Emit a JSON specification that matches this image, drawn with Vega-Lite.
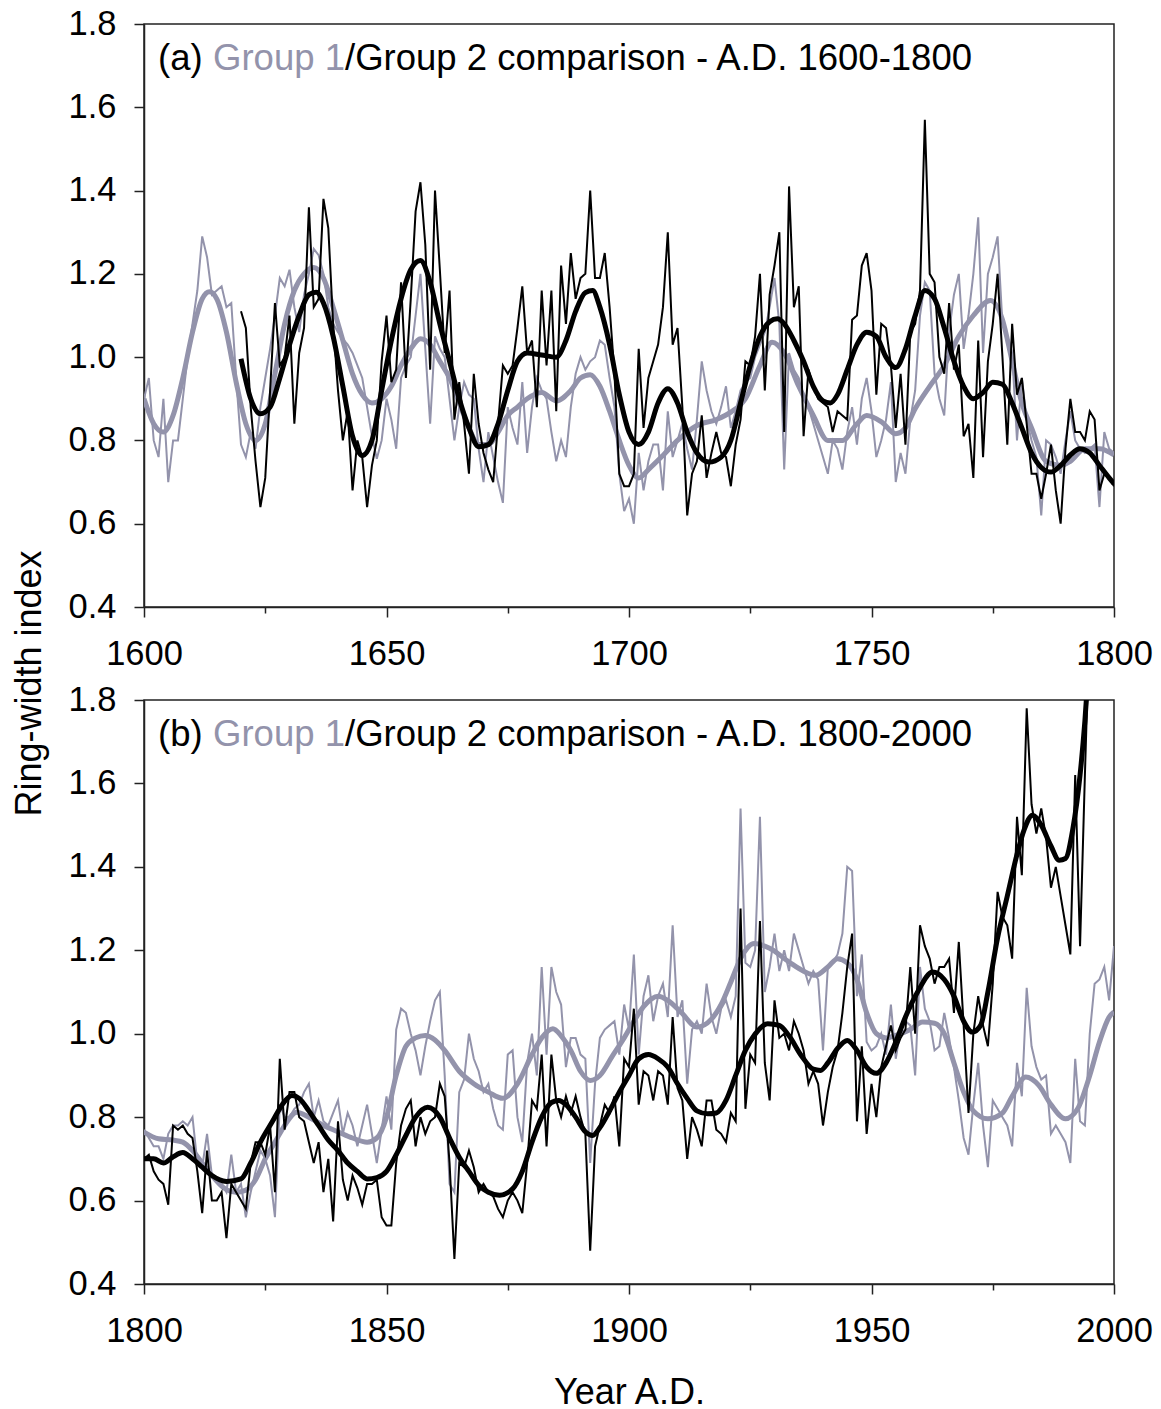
{
"$schema": "https://vega.github.io/schema/vega-lite/v6.json",
"padding": {"left": 10, "top": 5, "right": 5, "bottom": 0},
"config": {
  "font": "Liberation Sans",
  "view": {"stroke": "#222", "strokeWidth": 1.5},
  "axis": {"domainColor": "#222", "domainWidth": 1.5, "tickColor": "#222", "tickWidth": 1.5, "labelColor": "#000", "labelFont": "Liberation Sans", "titleFont": "Liberation Sans", "titleColor": "#000", "titleFontWeight": "normal", "grid": false, "labelFontSize": 34.5, "titleFontSize": 36},
  "text": {"font": "Liberation Sans"}
},
"datasets": {
"ta": [{"yr":1602.9,"ri":1.689}],
"tb": [{"yr":1802.9,"ri":1.689}],
"a1": [{"yr":1600,"ri":0.90},{"yr":1601,"ri":0.95},{"yr":1602,"ri":0.80},{"yr":1603,"ri":0.76},{"yr":1604,"ri":0.90},{"yr":1605,"ri":0.70},{"yr":1606,"ri":0.80},{"yr":1607,"ri":0.80},{"yr":1608,"ri":0.90},{"yr":1609,"ri":1.00},{"yr":1610,"ri":1.08},{"yr":1611,"ri":1.16},{"yr":1612,"ri":1.29},{"yr":1613,"ri":1.24},{"yr":1614,"ri":1.15},{"yr":1615,"ri":1.16},{"yr":1616,"ri":1.17},{"yr":1617,"ri":1.12},{"yr":1618,"ri":1.13},{"yr":1619,"ri":0.95},{"yr":1620,"ri":0.79},{"yr":1621,"ri":0.76},{"yr":1622,"ri":0.82},{"yr":1623,"ri":0.78},{"yr":1624,"ri":0.88},{"yr":1625,"ri":0.95},{"yr":1626,"ri":1.02},{"yr":1627,"ri":1.10},{"yr":1628,"ri":1.19},{"yr":1629,"ri":1.17},{"yr":1630,"ri":1.21},{"yr":1631,"ri":1.12},{"yr":1632,"ri":1.06},{"yr":1633,"ri":1.15},{"yr":1634,"ri":1.20},{"yr":1635,"ri":1.26},{"yr":1636,"ri":1.245},{"yr":1637,"ri":1.20},{"yr":1638,"ri":1.12},{"yr":1639,"ri":1.08},{"yr":1640,"ri":1.06},{"yr":1641,"ri":1.044},{"yr":1642,"ri":1.03},{"yr":1643,"ri":1.01},{"yr":1644,"ri":0.98},{"yr":1645,"ri":0.95},{"yr":1646,"ri":0.88},{"yr":1647,"ri":0.81},{"yr":1648,"ri":0.756},{"yr":1649,"ri":0.80},{"yr":1650,"ri":0.90},{"yr":1651,"ri":0.85},{"yr":1652,"ri":0.78},{"yr":1653,"ri":0.95},{"yr":1654,"ri":0.98},{"yr":1655,"ri":1.00},{"yr":1656,"ri":1.10},{"yr":1657,"ri":1.20},{"yr":1658,"ri":1.02},{"yr":1659,"ri":0.84},{"yr":1660,"ri":1.05},{"yr":1661,"ri":1.02},{"yr":1662,"ri":1.00},{"yr":1663,"ri":0.90},{"yr":1664,"ri":0.80},{"yr":1665,"ri":0.88},{"yr":1666,"ri":0.94},{"yr":1667,"ri":0.91},{"yr":1668,"ri":0.90},{"yr":1669,"ri":0.78},{"yr":1670,"ri":0.70},{"yr":1671,"ri":0.82},{"yr":1672,"ri":0.76},{"yr":1673,"ri":0.70},{"yr":1674,"ri":0.65},{"yr":1675,"ri":0.88},{"yr":1676,"ri":0.83},{"yr":1677,"ri":0.79},{"yr":1678,"ri":0.94},{"yr":1679,"ri":0.77},{"yr":1680,"ri":0.88},{"yr":1681,"ri":0.95},{"yr":1682,"ri":0.92},{"yr":1683,"ri":0.90},{"yr":1684,"ri":0.82},{"yr":1685,"ri":0.75},{"yr":1686,"ri":0.80},{"yr":1687,"ri":0.76},{"yr":1688,"ri":0.88},{"yr":1689,"ri":0.96},{"yr":1690,"ri":1.00},{"yr":1691,"ri":0.97},{"yr":1692,"ri":0.99},{"yr":1693,"ri":1.00},{"yr":1694,"ri":1.04},{"yr":1695,"ri":1.03},{"yr":1696,"ri":0.95},{"yr":1697,"ri":0.88},{"yr":1698,"ri":0.72},{"yr":1699,"ri":0.63},{"yr":1700,"ri":0.66},{"yr":1701,"ri":0.60},{"yr":1702,"ri":0.77},{"yr":1703,"ri":0.68},{"yr":1704,"ri":0.75},{"yr":1705,"ri":0.79},{"yr":1706,"ri":0.79},{"yr":1707,"ri":0.68},{"yr":1708,"ri":0.87},{"yr":1709,"ri":0.76},{"yr":1710,"ri":0.80},{"yr":1711,"ri":0.84},{"yr":1712,"ri":0.78},{"yr":1713,"ri":0.73},{"yr":1714,"ri":0.85},{"yr":1715,"ri":0.99},{"yr":1716,"ri":0.92},{"yr":1717,"ri":0.87},{"yr":1718,"ri":0.84},{"yr":1719,"ri":0.88},{"yr":1720,"ri":0.93},{"yr":1721,"ri":0.83},{"yr":1722,"ri":0.87},{"yr":1723,"ri":0.92},{"yr":1724,"ri":0.94},{"yr":1725,"ri":0.95},{"yr":1726,"ri":1.00},{"yr":1727,"ri":1.03},{"yr":1728,"ri":1.06},{"yr":1729,"ri":1.12},{"yr":1730,"ri":1.19},{"yr":1731,"ri":1.08},{"yr":1732,"ri":0.73},{"yr":1733,"ri":1.01},{"yr":1734,"ri":0.97},{"yr":1735,"ri":0.95},{"yr":1736,"ri":0.90},{"yr":1737,"ri":0.88},{"yr":1738,"ri":0.84},{"yr":1739,"ri":0.80},{"yr":1740,"ri":0.76},{"yr":1741,"ri":0.72},{"yr":1742,"ri":0.80},{"yr":1743,"ri":0.78},{"yr":1744,"ri":0.73},{"yr":1745,"ri":0.82},{"yr":1746,"ri":0.88},{"yr":1747,"ri":0.79},{"yr":1748,"ri":0.90},{"yr":1749,"ri":0.95},{"yr":1750,"ri":0.87},{"yr":1751,"ri":0.76},{"yr":1752,"ri":0.80},{"yr":1753,"ri":0.85},{"yr":1754,"ri":0.94},{"yr":1755,"ri":0.70},{"yr":1756,"ri":0.77},{"yr":1757,"ri":0.72},{"yr":1758,"ri":0.85},{"yr":1759,"ri":0.92},{"yr":1760,"ri":1.10},{"yr":1761,"ri":1.18},{"yr":1762,"ri":1.16},{"yr":1763,"ri":0.96},{"yr":1764,"ri":0.90},{"yr":1765,"ri":0.86},{"yr":1766,"ri":1.06},{"yr":1767,"ri":1.15},{"yr":1768,"ri":1.20},{"yr":1769,"ri":1.02},{"yr":1770,"ri":1.10},{"yr":1771,"ri":1.20},{"yr":1772,"ri":1.336},{"yr":1773,"ri":1.01},{"yr":1774,"ri":1.20},{"yr":1775,"ri":1.24},{"yr":1776,"ri":1.29},{"yr":1777,"ri":1.08},{"yr":1778,"ri":1.05},{"yr":1779,"ri":1.01},{"yr":1780,"ri":0.80},{"yr":1781,"ri":0.95},{"yr":1782,"ri":0.85},{"yr":1783,"ri":0.80},{"yr":1784,"ri":0.76},{"yr":1785,"ri":0.62},{"yr":1786,"ri":0.80},{"yr":1787,"ri":0.79},{"yr":1788,"ri":0.76},{"yr":1789,"ri":0.72},{"yr":1790,"ri":0.80},{"yr":1791,"ri":0.87},{"yr":1792,"ri":0.80},{"yr":1793,"ri":0.78},{"yr":1794,"ri":0.77},{"yr":1795,"ri":0.78},{"yr":1796,"ri":0.79},{"yr":1797,"ri":0.64},{"yr":1798,"ri":0.82},{"yr":1799,"ri":0.78},{"yr":1800,"ri":0.77}],
"a2": [{"yr":1620,"ri":1.11},{"yr":1621,"ri":1.07},{"yr":1622,"ri":0.88},{"yr":1623,"ri":0.75},{"yr":1624,"ri":0.64},{"yr":1625,"ri":0.71},{"yr":1626,"ri":0.92},{"yr":1627,"ri":1.13},{"yr":1628,"ri":0.98},{"yr":1629,"ri":1.00},{"yr":1630,"ri":1.10},{"yr":1631,"ri":0.84},{"yr":1632,"ri":1.01},{"yr":1633,"ri":1.07},{"yr":1634,"ri":1.36},{"yr":1635,"ri":1.12},{"yr":1636,"ri":1.14},{"yr":1637,"ri":1.38},{"yr":1638,"ri":1.31},{"yr":1639,"ri":1.08},{"yr":1640,"ri":0.92},{"yr":1641,"ri":0.80},{"yr":1642,"ri":0.87},{"yr":1643,"ri":0.68},{"yr":1644,"ri":0.80},{"yr":1645,"ri":0.76},{"yr":1646,"ri":0.64},{"yr":1647,"ri":0.74},{"yr":1648,"ri":0.80},{"yr":1649,"ri":0.99},{"yr":1650,"ri":1.10},{"yr":1651,"ri":0.94},{"yr":1652,"ri":0.97},{"yr":1653,"ri":1.18},{"yr":1654,"ri":0.95},{"yr":1655,"ri":1.14},{"yr":1656,"ri":1.35},{"yr":1657,"ri":1.42},{"yr":1658,"ri":1.27},{"yr":1659,"ri":0.97},{"yr":1660,"ri":1.40},{"yr":1661,"ri":1.21},{"yr":1662,"ri":1.01},{"yr":1663,"ri":1.16},{"yr":1664,"ri":0.85},{"yr":1665,"ri":0.94},{"yr":1666,"ri":0.84},{"yr":1667,"ri":0.72},{"yr":1668,"ri":0.96},{"yr":1669,"ri":0.84},{"yr":1670,"ri":0.77},{"yr":1671,"ri":0.73},{"yr":1672,"ri":0.70},{"yr":1673,"ri":0.84},{"yr":1674,"ri":0.98},{"yr":1675,"ri":0.96},{"yr":1676,"ri":0.98},{"yr":1677,"ri":1.07},{"yr":1678,"ri":1.17},{"yr":1679,"ri":1.01},{"yr":1680,"ri":1.04},{"yr":1681,"ri":0.88},{"yr":1682,"ri":1.16},{"yr":1683,"ri":0.98},{"yr":1684,"ri":1.16},{"yr":1685,"ri":0.87},{"yr":1686,"ri":1.22},{"yr":1687,"ri":1.08},{"yr":1688,"ri":1.25},{"yr":1689,"ri":1.14},{"yr":1690,"ri":1.19},{"yr":1691,"ri":1.20},{"yr":1692,"ri":1.40},{"yr":1693,"ri":1.19},{"yr":1694,"ri":1.19},{"yr":1695,"ri":1.25},{"yr":1696,"ri":1.12},{"yr":1697,"ri":0.96},{"yr":1698,"ri":0.72},{"yr":1699,"ri":0.69},{"yr":1700,"ri":0.69},{"yr":1701,"ri":0.72},{"yr":1702,"ri":1.02},{"yr":1703,"ri":0.83},{"yr":1704,"ri":0.95},{"yr":1705,"ri":0.99},{"yr":1706,"ri":1.03},{"yr":1707,"ri":1.12},{"yr":1708,"ri":1.30},{"yr":1709,"ri":1.03},{"yr":1710,"ri":1.07},{"yr":1711,"ri":0.88},{"yr":1712,"ri":0.62},{"yr":1713,"ri":0.72},{"yr":1714,"ri":0.75},{"yr":1715,"ri":0.86},{"yr":1716,"ri":0.71},{"yr":1717,"ri":0.77},{"yr":1718,"ri":0.82},{"yr":1719,"ri":0.77},{"yr":1720,"ri":0.76},{"yr":1721,"ri":0.69},{"yr":1722,"ri":0.79},{"yr":1723,"ri":0.85},{"yr":1724,"ri":0.99},{"yr":1725,"ri":0.98},{"yr":1726,"ri":1.05},{"yr":1727,"ri":1.20},{"yr":1728,"ri":0.92},{"yr":1729,"ri":1.15},{"yr":1730,"ri":1.22},{"yr":1731,"ri":1.30},{"yr":1732,"ri":0.82},{"yr":1733,"ri":1.41},{"yr":1734,"ri":1.12},{"yr":1735,"ri":1.17},{"yr":1736,"ri":0.81},{"yr":1737,"ri":0.97},{"yr":1738,"ri":0.93},{"yr":1739,"ri":0.90},{"yr":1740,"ri":0.89},{"yr":1741,"ri":0.88},{"yr":1742,"ri":0.82},{"yr":1743,"ri":0.87},{"yr":1744,"ri":0.86},{"yr":1745,"ri":0.85},{"yr":1746,"ri":1.09},{"yr":1747,"ri":1.10},{"yr":1748,"ri":1.22},{"yr":1749,"ri":1.25},{"yr":1750,"ri":1.16},{"yr":1751,"ri":0.91},{"yr":1752,"ri":1.08},{"yr":1753,"ri":1.07},{"yr":1754,"ri":0.98},{"yr":1755,"ri":0.83},{"yr":1756,"ri":0.96},{"yr":1757,"ri":0.79},{"yr":1758,"ri":1.06},{"yr":1759,"ri":1.08},{"yr":1760,"ri":1.16},{"yr":1761,"ri":1.57},{"yr":1762,"ri":1.20},{"yr":1763,"ri":1.18},{"yr":1764,"ri":1.00},{"yr":1765,"ri":0.96},{"yr":1766,"ri":1.13},{"yr":1767,"ri":0.97},{"yr":1768,"ri":1.03},{"yr":1769,"ri":0.81},{"yr":1770,"ri":0.84},{"yr":1771,"ri":0.71},{"yr":1772,"ri":1.04},{"yr":1773,"ri":0.76},{"yr":1774,"ri":0.99},{"yr":1775,"ri":1.08},{"yr":1776,"ri":1.20},{"yr":1777,"ri":1.00},{"yr":1778,"ri":0.79},{"yr":1779,"ri":1.08},{"yr":1780,"ri":0.91},{"yr":1781,"ri":0.95},{"yr":1782,"ri":0.84},{"yr":1783,"ri":0.72},{"yr":1784,"ri":0.72},{"yr":1785,"ri":0.66},{"yr":1786,"ri":0.72},{"yr":1787,"ri":0.79},{"yr":1788,"ri":0.68},{"yr":1789,"ri":0.60},{"yr":1790,"ri":0.78},{"yr":1791,"ri":0.90},{"yr":1792,"ri":0.82},{"yr":1793,"ri":0.82},{"yr":1794,"ri":0.80},{"yr":1795,"ri":0.87},{"yr":1796,"ri":0.85},{"yr":1797,"ri":0.68},{"yr":1798,"ri":0.72},{"yr":1799,"ri":0.71},{"yr":1800,"ri":0.69}],
"as1": [{"yr":1600,"ri":0.90},{"yr":1602,"ri":0.84},{"yr":1604,"ri":0.82},{"yr":1606,"ri":0.86},{"yr":1608,"ri":0.95},{"yr":1610,"ri":1.06},{"yr":1612,"ri":1.14},{"yr":1613.5,"ri":1.157},{"yr":1615,"ri":1.14},{"yr":1617,"ri":1.06},{"yr":1619,"ri":0.94},{"yr":1621,"ri":0.84},{"yr":1623,"ri":0.80},{"yr":1625,"ri":0.84},{"yr":1627,"ri":0.96},{"yr":1629,"ri":1.08},{"yr":1631,"ri":1.16},{"yr":1633,"ri":1.20},{"yr":1635,"ri":1.215},{"yr":1637,"ri":1.19},{"yr":1639,"ri":1.12},{"yr":1641,"ri":1.04},{"yr":1643,"ri":0.96},{"yr":1645,"ri":0.91},{"yr":1647,"ri":0.89},{"yr":1649,"ri":0.90},{"yr":1651,"ri":0.93},{"yr":1653,"ri":0.98},{"yr":1655,"ri":1.02},{"yr":1657,"ri":1.044},{"yr":1659,"ri":1.03},{"yr":1661,"ri":0.99},{"yr":1663,"ri":0.95},{"yr":1665,"ri":0.89},{"yr":1667,"ri":0.83},{"yr":1669,"ri":0.79},{"yr":1671,"ri":0.79},{"yr":1673,"ri":0.82},{"yr":1675,"ri":0.86},{"yr":1677,"ri":0.88},{"yr":1679,"ri":0.90},{"yr":1682,"ri":0.915},{"yr":1685,"ri":0.895},{"yr":1688,"ri":0.92},{"yr":1690,"ri":0.95},{"yr":1692,"ri":0.958},{"yr":1694,"ri":0.93},{"yr":1696,"ri":0.87},{"yr":1698,"ri":0.80},{"yr":1700,"ri":0.74},{"yr":1702,"ri":0.71},{"yr":1704,"ri":0.73},{"yr":1707,"ri":0.764},{"yr":1710,"ri":0.80},{"yr":1714,"ri":0.836},{"yr":1718,"ri":0.85},{"yr":1721,"ri":0.868},{"yr":1724,"ri":0.90},{"yr":1727,"ri":0.98},{"yr":1729.5,"ri":1.036},{"yr":1732,"ri":1.01},{"yr":1735,"ri":0.93},{"yr":1738,"ri":0.86},{"yr":1741,"ri":0.80},{"yr":1744,"ri":0.80},{"yr":1747,"ri":0.84},{"yr":1749,"ri":0.86},{"yr":1752,"ri":0.845},{"yr":1755,"ri":0.816},{"yr":1757,"ri":0.83},{"yr":1759,"ri":0.876},{"yr":1762,"ri":0.93},{"yr":1765,"ri":0.98},{"yr":1768,"ri":1.05},{"yr":1771,"ri":1.10},{"yr":1774.5,"ri":1.136},{"yr":1777,"ri":1.09},{"yr":1779,"ri":0.99},{"yr":1781,"ri":0.89},{"yr":1783,"ri":0.83},{"yr":1786,"ri":0.75},{"yr":1789,"ri":0.74},{"yr":1791,"ri":0.75},{"yr":1794,"ri":0.78},{"yr":1797,"ri":0.78},{"yr":1800,"ri":0.765}],
"as2": [{"yr":1620,"ri":0.996},{"yr":1622,"ri":0.90},{"yr":1624,"ri":0.864},{"yr":1626,"ri":0.88},{"yr":1628,"ri":0.95},{"yr":1630,"ri":1.03},{"yr":1632,"ri":1.10},{"yr":1634,"ri":1.15},{"yr":1635.5,"ri":1.156},{"yr":1637,"ri":1.13},{"yr":1639,"ri":1.05},{"yr":1641,"ri":0.93},{"yr":1643,"ri":0.81},{"yr":1645,"ri":0.764},{"yr":1647,"ri":0.80},{"yr":1649,"ri":0.92},{"yr":1651,"ri":1.04},{"yr":1653,"ri":1.14},{"yr":1655,"ri":1.21},{"yr":1657,"ri":1.232},{"yr":1659,"ri":1.18},{"yr":1661,"ri":1.08},{"yr":1663,"ri":0.99},{"yr":1665,"ri":0.90},{"yr":1667,"ri":0.83},{"yr":1669,"ri":0.785},{"yr":1671,"ri":0.79},{"yr":1673,"ri":0.84},{"yr":1675,"ri":0.92},{"yr":1677,"ri":0.99},{"yr":1679,"ri":1.01},{"yr":1682,"ri":1.005},{"yr":1685,"ri":1.00},{"yr":1687,"ri":1.04},{"yr":1689,"ri":1.11},{"yr":1691,"ri":1.155},{"yr":1692.5,"ri":1.16},{"yr":1694,"ri":1.12},{"yr":1696,"ri":1.03},{"yr":1698,"ri":0.91},{"yr":1700,"ri":0.82},{"yr":1702,"ri":0.79},{"yr":1704,"ri":0.82},{"yr":1706,"ri":0.89},{"yr":1708,"ri":0.924},{"yr":1710,"ri":0.89},{"yr":1712,"ri":0.82},{"yr":1714,"ri":0.77},{"yr":1716.5,"ri":0.748},{"yr":1719,"ri":0.76},{"yr":1721,"ri":0.80},{"yr":1723,"ri":0.89},{"yr":1725,"ri":0.98},{"yr":1727,"ri":1.05},{"yr":1729,"ri":1.085},{"yr":1730.6,"ri":1.092},{"yr":1732,"ri":1.08},{"yr":1734,"ri":1.04},{"yr":1736,"ri":0.99},{"yr":1738,"ri":0.93},{"yr":1740,"ri":0.895},{"yr":1741.5,"ri":0.89},{"yr":1743,"ri":0.91},{"yr":1745,"ri":0.97},{"yr":1747,"ri":1.03},{"yr":1749,"ri":1.06},{"yr":1751,"ri":1.05},{"yr":1753,"ri":1.00},{"yr":1755,"ri":0.975},{"yr":1757,"ri":1.02},{"yr":1759,"ri":1.10},{"yr":1761,"ri":1.16},{"yr":1763,"ri":1.14},{"yr":1765,"ri":1.07},{"yr":1767,"ri":0.99},{"yr":1769,"ri":0.93},{"yr":1771,"ri":0.90},{"yr":1773,"ri":0.915},{"yr":1775,"ri":0.94},{"yr":1777,"ri":0.935},{"yr":1779,"ri":0.89},{"yr":1781,"ri":0.83},{"yr":1783,"ri":0.77},{"yr":1785,"ri":0.735},{"yr":1787,"ri":0.724},{"yr":1789,"ri":0.74},{"yr":1791,"ri":0.765},{"yr":1793,"ri":0.78},{"yr":1795,"ri":0.77},{"yr":1797,"ri":0.74},{"yr":1799,"ri":0.71},{"yr":1800,"ri":0.696}],
"b1": [{"yr":1800,"ri":0.77},{"yr":1801,"ri":0.75},{"yr":1802,"ri":0.73},{"yr":1803,"ri":0.73},{"yr":1804,"ri":0.70},{"yr":1805,"ri":0.76},{"yr":1806,"ri":0.78},{"yr":1807,"ri":0.78},{"yr":1808,"ri":0.79},{"yr":1809,"ri":0.78},{"yr":1810,"ri":0.80},{"yr":1811,"ri":0.69},{"yr":1812,"ri":0.68},{"yr":1813,"ri":0.76},{"yr":1814,"ri":0.66},{"yr":1815,"ri":0.65},{"yr":1816,"ri":0.64},{"yr":1817,"ri":0.62},{"yr":1818,"ri":0.71},{"yr":1819,"ri":0.62},{"yr":1820,"ri":0.64},{"yr":1821,"ri":0.56},{"yr":1822,"ri":0.62},{"yr":1823,"ri":0.67},{"yr":1824,"ri":0.72},{"yr":1825,"ri":0.70},{"yr":1826,"ri":0.66},{"yr":1827,"ri":0.56},{"yr":1828,"ri":0.83},{"yr":1829,"ri":0.80},{"yr":1830,"ri":0.80},{"yr":1831,"ri":0.82},{"yr":1832,"ri":0.83},{"yr":1833,"ri":0.86},{"yr":1834,"ri":0.88},{"yr":1835,"ri":0.80},{"yr":1836,"ri":0.84},{"yr":1837,"ri":0.79},{"yr":1838,"ri":0.78},{"yr":1839,"ri":0.81},{"yr":1840,"ri":0.84},{"yr":1841,"ri":0.76},{"yr":1842,"ri":0.81},{"yr":1843,"ri":0.78},{"yr":1844,"ri":0.73},{"yr":1845,"ri":0.78},{"yr":1846,"ri":0.83},{"yr":1847,"ri":0.76},{"yr":1848,"ri":0.69},{"yr":1849,"ri":0.77},{"yr":1850,"ri":0.85},{"yr":1851,"ri":0.77},{"yr":1852,"ri":1.01},{"yr":1853,"ri":1.06},{"yr":1854,"ri":1.05},{"yr":1855,"ri":1.00},{"yr":1856,"ri":0.96},{"yr":1857,"ri":0.90},{"yr":1858,"ri":0.97},{"yr":1859,"ri":1.03},{"yr":1860,"ri":1.08},{"yr":1861,"ri":1.10},{"yr":1862,"ri":0.90},{"yr":1863,"ri":0.64},{"yr":1864,"ri":0.62},{"yr":1865,"ri":0.86},{"yr":1866,"ri":0.89},{"yr":1867,"ri":1.00},{"yr":1868,"ri":0.94},{"yr":1869,"ri":0.91},{"yr":1870,"ri":0.86},{"yr":1871,"ri":0.88},{"yr":1872,"ri":0.82},{"yr":1873,"ri":0.78},{"yr":1874,"ri":0.77},{"yr":1875,"ri":0.95},{"yr":1876,"ri":0.96},{"yr":1877,"ri":0.80},{"yr":1878,"ri":0.74},{"yr":1879,"ri":0.93},{"yr":1880,"ri":1.00},{"yr":1881,"ri":0.90},{"yr":1882,"ri":1.16},{"yr":1883,"ri":0.95},{"yr":1884,"ri":1.16},{"yr":1885,"ri":1.10},{"yr":1886,"ri":1.07},{"yr":1887,"ri":0.92},{"yr":1888,"ri":0.99},{"yr":1889,"ri":0.99},{"yr":1890,"ri":0.95},{"yr":1891,"ri":0.94},{"yr":1892,"ri":0.69},{"yr":1893,"ri":0.88},{"yr":1894,"ri":0.99},{"yr":1895,"ri":1.01},{"yr":1896,"ri":1.02},{"yr":1897,"ri":1.03},{"yr":1898,"ri":0.95},{"yr":1899,"ri":1.07},{"yr":1900,"ri":1.01},{"yr":1901,"ri":1.19},{"yr":1902,"ri":0.95},{"yr":1903,"ri":1.09},{"yr":1904,"ri":1.14},{"yr":1905,"ri":1.03},{"yr":1906,"ri":1.09},{"yr":1907,"ri":1.12},{"yr":1908,"ri":1.04},{"yr":1909,"ri":1.26},{"yr":1910,"ri":1.04},{"yr":1911,"ri":1.08},{"yr":1912,"ri":0.88},{"yr":1913,"ri":1.01},{"yr":1914,"ri":1.03},{"yr":1915,"ri":1.00},{"yr":1916,"ri":1.12},{"yr":1917,"ri":1.04},{"yr":1918,"ri":1.00},{"yr":1919,"ri":1.06},{"yr":1920,"ri":1.08},{"yr":1921,"ri":1.04},{"yr":1922,"ri":1.09},{"yr":1923,"ri":1.54},{"yr":1924,"ri":1.17},{"yr":1925,"ri":1.16},{"yr":1926,"ri":1.20},{"yr":1927,"ri":1.52},{"yr":1928,"ri":1.10},{"yr":1929,"ri":1.16},{"yr":1930,"ri":1.24},{"yr":1931,"ri":1.15},{"yr":1932,"ri":1.20},{"yr":1933,"ri":1.15},{"yr":1934,"ri":1.24},{"yr":1935,"ri":1.20},{"yr":1936,"ri":1.16},{"yr":1937,"ri":1.12},{"yr":1938,"ri":1.15},{"yr":1939,"ri":1.13},{"yr":1940,"ri":0.96},{"yr":1941,"ri":1.16},{"yr":1942,"ri":1.17},{"yr":1943,"ri":1.19},{"yr":1944,"ri":1.24},{"yr":1945,"ri":1.40},{"yr":1946,"ri":1.39},{"yr":1947,"ri":1.09},{"yr":1948,"ri":1.19},{"yr":1949,"ri":0.98},{"yr":1950,"ri":0.96},{"yr":1951,"ri":0.97},{"yr":1952,"ri":1.00},{"yr":1953,"ri":0.95},{"yr":1954,"ri":1.07},{"yr":1955,"ri":0.94},{"yr":1956,"ri":1.01},{"yr":1957,"ri":1.03},{"yr":1958,"ri":1.02},{"yr":1959,"ri":0.90},{"yr":1960,"ri":1.16},{"yr":1961,"ri":1.06},{"yr":1962,"ri":1.03},{"yr":1963,"ri":0.96},{"yr":1964,"ri":0.97},{"yr":1965,"ri":1.05},{"yr":1966,"ri":0.99},{"yr":1967,"ri":0.92},{"yr":1968,"ri":0.84},{"yr":1969,"ri":0.75},{"yr":1970,"ri":0.71},{"yr":1971,"ri":0.83},{"yr":1972,"ri":0.93},{"yr":1973,"ri":0.78},{"yr":1974,"ri":0.68},{"yr":1975,"ri":0.84},{"yr":1976,"ri":0.82},{"yr":1977,"ri":0.80},{"yr":1978,"ri":0.78},{"yr":1979,"ri":0.73},{"yr":1980,"ri":0.93},{"yr":1981,"ri":0.85},{"yr":1982,"ri":1.11},{"yr":1983,"ri":0.97},{"yr":1984,"ri":0.92},{"yr":1985,"ri":0.89},{"yr":1986,"ri":0.90},{"yr":1987,"ri":0.76},{"yr":1988,"ri":0.78},{"yr":1989,"ri":0.76},{"yr":1990,"ri":0.74},{"yr":1991,"ri":0.69},{"yr":1992,"ri":0.94},{"yr":1993,"ri":0.79},{"yr":1994,"ri":0.78},{"yr":1995,"ri":1.00},{"yr":1996,"ri":1.12},{"yr":1997,"ri":1.13},{"yr":1998,"ri":1.16},{"yr":1999,"ri":1.08},{"yr":2000,"ri":1.21}],
"b2": [{"yr":1800,"ri":0.70},{"yr":1801,"ri":0.71},{"yr":1802,"ri":0.67},{"yr":1803,"ri":0.65},{"yr":1804,"ri":0.64},{"yr":1805,"ri":0.59},{"yr":1806,"ri":0.78},{"yr":1807,"ri":0.77},{"yr":1808,"ri":0.78},{"yr":1809,"ri":0.76},{"yr":1810,"ri":0.75},{"yr":1811,"ri":0.67},{"yr":1812,"ri":0.57},{"yr":1813,"ri":0.72},{"yr":1814,"ri":0.60},{"yr":1815,"ri":0.60},{"yr":1816,"ri":0.62},{"yr":1817,"ri":0.51},{"yr":1818,"ri":0.64},{"yr":1819,"ri":0.62},{"yr":1820,"ri":0.60},{"yr":1821,"ri":0.58},{"yr":1822,"ri":0.69},{"yr":1823,"ri":0.74},{"yr":1824,"ri":0.74},{"yr":1825,"ri":0.71},{"yr":1826,"ri":0.78},{"yr":1827,"ri":0.62},{"yr":1828,"ri":0.94},{"yr":1829,"ri":0.77},{"yr":1830,"ri":0.86},{"yr":1831,"ri":0.86},{"yr":1832,"ri":0.80},{"yr":1833,"ri":0.79},{"yr":1834,"ri":0.74},{"yr":1835,"ri":0.69},{"yr":1836,"ri":0.74},{"yr":1837,"ri":0.62},{"yr":1838,"ri":0.70},{"yr":1839,"ri":0.55},{"yr":1840,"ri":0.79},{"yr":1841,"ri":0.65},{"yr":1842,"ri":0.60},{"yr":1843,"ri":0.66},{"yr":1844,"ri":0.63},{"yr":1845,"ri":0.59},{"yr":1846,"ri":0.64},{"yr":1847,"ri":0.64},{"yr":1848,"ri":0.65},{"yr":1849,"ri":0.56},{"yr":1850,"ri":0.54},{"yr":1851,"ri":0.54},{"yr":1852,"ri":0.69},{"yr":1853,"ri":0.78},{"yr":1854,"ri":0.82},{"yr":1855,"ri":0.84},{"yr":1856,"ri":0.73},{"yr":1857,"ri":0.80},{"yr":1858,"ri":0.76},{"yr":1859,"ri":0.79},{"yr":1860,"ri":0.80},{"yr":1861,"ri":0.88},{"yr":1862,"ri":0.85},{"yr":1863,"ri":0.69},{"yr":1864,"ri":0.46},{"yr":1865,"ri":0.69},{"yr":1866,"ri":0.68},{"yr":1867,"ri":0.72},{"yr":1868,"ri":0.68},{"yr":1869,"ri":0.62},{"yr":1870,"ri":0.64},{"yr":1871,"ri":0.62},{"yr":1872,"ri":0.61},{"yr":1873,"ri":0.58},{"yr":1874,"ri":0.56},{"yr":1875,"ri":0.60},{"yr":1876,"ri":0.62},{"yr":1877,"ri":0.60},{"yr":1878,"ri":0.57},{"yr":1879,"ri":0.69},{"yr":1880,"ri":0.84},{"yr":1881,"ri":0.82},{"yr":1882,"ri":0.95},{"yr":1883,"ri":0.73},{"yr":1884,"ri":0.95},{"yr":1885,"ri":0.84},{"yr":1886,"ri":0.80},{"yr":1887,"ri":0.85},{"yr":1888,"ri":0.81},{"yr":1889,"ri":0.85},{"yr":1890,"ri":0.80},{"yr":1891,"ri":0.76},{"yr":1892,"ri":0.48},{"yr":1893,"ri":0.73},{"yr":1894,"ri":0.78},{"yr":1895,"ri":0.83},{"yr":1896,"ri":0.81},{"yr":1897,"ri":0.85},{"yr":1898,"ri":0.73},{"yr":1899,"ri":0.94},{"yr":1900,"ri":0.92},{"yr":1901,"ri":1.06},{"yr":1902,"ri":0.83},{"yr":1903,"ri":0.91},{"yr":1904,"ri":0.90},{"yr":1905,"ri":0.84},{"yr":1906,"ri":0.91},{"yr":1907,"ri":0.90},{"yr":1908,"ri":0.83},{"yr":1909,"ri":1.04},{"yr":1910,"ri":0.87},{"yr":1911,"ri":0.84},{"yr":1912,"ri":0.70},{"yr":1913,"ri":0.80},{"yr":1914,"ri":0.77},{"yr":1915,"ri":0.73},{"yr":1916,"ri":0.84},{"yr":1917,"ri":0.84},{"yr":1918,"ri":0.77},{"yr":1919,"ri":0.76},{"yr":1920,"ri":0.74},{"yr":1921,"ri":0.81},{"yr":1922,"ri":0.79},{"yr":1923,"ri":1.30},{"yr":1924,"ri":0.82},{"yr":1925,"ri":0.95},{"yr":1926,"ri":0.93},{"yr":1927,"ri":1.27},{"yr":1928,"ri":0.93},{"yr":1929,"ri":0.84},{"yr":1930,"ri":1.08},{"yr":1931,"ri":0.99},{"yr":1932,"ri":1.00},{"yr":1933,"ri":0.96},{"yr":1934,"ri":1.03},{"yr":1935,"ri":1.00},{"yr":1936,"ri":0.96},{"yr":1937,"ri":0.88},{"yr":1938,"ri":0.91},{"yr":1939,"ri":0.88},{"yr":1940,"ri":0.78},{"yr":1941,"ri":0.86},{"yr":1942,"ri":0.92},{"yr":1943,"ri":0.96},{"yr":1944,"ri":1.05},{"yr":1945,"ri":1.16},{"yr":1946,"ri":1.24},{"yr":1947,"ri":0.79},{"yr":1948,"ri":0.97},{"yr":1949,"ri":0.76},{"yr":1950,"ri":0.88},{"yr":1951,"ri":0.80},{"yr":1952,"ri":0.92},{"yr":1953,"ri":0.97},{"yr":1954,"ri":1.02},{"yr":1955,"ri":0.96},{"yr":1956,"ri":0.99},{"yr":1957,"ri":1.01},{"yr":1958,"ri":1.16},{"yr":1959,"ri":1.00},{"yr":1960,"ri":1.26},{"yr":1961,"ri":1.21},{"yr":1962,"ri":1.18},{"yr":1963,"ri":1.12},{"yr":1964,"ri":1.16},{"yr":1965,"ri":1.16},{"yr":1966,"ri":1.18},{"yr":1967,"ri":1.05},{"yr":1968,"ri":1.22},{"yr":1969,"ri":1.02},{"yr":1970,"ri":0.81},{"yr":1971,"ri":1.00},{"yr":1972,"ri":1.09},{"yr":1973,"ri":1.02},{"yr":1974,"ri":0.97},{"yr":1975,"ri":1.12},{"yr":1976,"ri":1.34},{"yr":1977,"ri":1.28},{"yr":1978,"ri":1.26},{"yr":1979,"ri":1.18},{"yr":1980,"ri":1.52},{"yr":1981,"ri":1.38},{"yr":1982,"ri":1.78},{"yr":1983,"ri":1.55},{"yr":1984,"ri":1.48},{"yr":1985,"ri":1.54},{"yr":1986,"ri":1.47},{"yr":1987,"ri":1.35},{"yr":1988,"ri":1.40},{"yr":1989,"ri":1.33},{"yr":1990,"ri":1.26},{"yr":1991,"ri":1.19},{"yr":1992,"ri":1.62},{"yr":1993,"ri":1.21},{"yr":1994,"ri":1.62},{"yr":1995,"ri":2.0}],
"bs1": [{"yr":1800,"ri":0.764},{"yr":1803,"ri":0.748},{"yr":1806,"ri":0.745},{"yr":1808,"ri":0.74},{"yr":1810,"ri":0.72},{"yr":1812,"ri":0.69},{"yr":1814,"ri":0.66},{"yr":1816.5,"ri":0.63},{"yr":1819,"ri":0.62},{"yr":1821,"ri":0.625},{"yr":1823,"ri":0.65},{"yr":1825,"ri":0.70},{"yr":1827,"ri":0.74},{"yr":1829,"ri":0.78},{"yr":1831.5,"ri":0.812},{"yr":1834,"ri":0.80},{"yr":1837,"ri":0.78},{"yr":1840,"ri":0.765},{"yr":1843,"ri":0.75},{"yr":1846,"ri":0.74},{"yr":1848,"ri":0.75},{"yr":1850,"ri":0.80},{"yr":1852,"ri":0.90},{"yr":1854,"ri":0.97},{"yr":1856,"ri":0.99},{"yr":1858,"ri":0.996},{"yr":1860,"ri":0.985},{"yr":1862,"ri":0.96},{"yr":1865,"ri":0.91},{"yr":1868,"ri":0.88},{"yr":1871,"ri":0.86},{"yr":1874,"ri":0.845},{"yr":1877,"ri":0.88},{"yr":1880,"ri":0.95},{"yr":1882,"ri":0.99},{"yr":1884.3,"ri":1.012},{"yr":1886,"ri":0.995},{"yr":1888,"ri":0.96},{"yr":1890,"ri":0.91},{"yr":1892,"ri":0.888},{"yr":1894,"ri":0.90},{"yr":1896.5,"ri":0.945},{"yr":1899,"ri":0.99},{"yr":1901,"ri":1.03},{"yr":1903,"ri":1.065},{"yr":1906,"ri":1.09},{"yr":1908,"ri":1.08},{"yr":1910.7,"ri":1.052},{"yr":1914,"ri":1.016},{"yr":1917,"ri":1.035},{"yr":1919,"ri":1.07},{"yr":1921,"ri":1.124},{"yr":1923,"ri":1.18},{"yr":1925.8,"ri":1.216},{"yr":1929,"ri":1.205},{"yr":1933,"ri":1.172},{"yr":1936,"ri":1.15},{"yr":1938.5,"ri":1.14},{"yr":1941,"ri":1.16},{"yr":1943,"ri":1.18},{"yr":1945,"ri":1.17},{"yr":1947,"ri":1.13},{"yr":1949,"ri":1.05},{"yr":1951,"ri":1.00},{"yr":1953,"ri":0.99},{"yr":1955,"ri":0.996},{"yr":1958,"ri":1.01},{"yr":1960.5,"ri":1.028},{"yr":1963,"ri":1.025},{"yr":1965,"ri":1.00},{"yr":1967,"ri":0.93},{"yr":1969,"ri":0.86},{"yr":1971,"ri":0.815},{"yr":1974,"ri":0.796},{"yr":1977,"ri":0.81},{"yr":1979,"ri":0.85},{"yr":1981.8,"ri":0.896},{"yr":1984.5,"ri":0.876},{"yr":1987,"ri":0.83},{"yr":1990,"ri":0.796},{"yr":1992.5,"ri":0.82},{"yr":1995,"ri":0.90},{"yr":1997,"ri":0.98},{"yr":1999,"ri":1.04},{"yr":2000,"ri":1.052}],
"bs2": [{"yr":1800,"ri":0.70},{"yr":1802,"ri":0.70},{"yr":1804,"ri":0.69},{"yr":1806,"ri":0.705},{"yr":1808,"ri":0.715},{"yr":1810,"ri":0.70},{"yr":1812,"ri":0.68},{"yr":1814,"ri":0.66},{"yr":1817,"ri":0.646},{"yr":1820,"ri":0.652},{"yr":1822,"ri":0.69},{"yr":1824,"ri":0.74},{"yr":1826.5,"ri":0.79},{"yr":1828.5,"ri":0.83},{"yr":1830.5,"ri":0.852},{"yr":1832,"ri":0.845},{"yr":1834,"ri":0.815},{"yr":1836,"ri":0.78},{"yr":1838,"ri":0.745},{"yr":1840,"ri":0.72},{"yr":1842,"ri":0.69},{"yr":1844,"ri":0.67},{"yr":1846,"ri":0.652},{"yr":1848,"ri":0.655},{"yr":1850,"ri":0.67},{"yr":1852,"ri":0.71},{"yr":1854,"ri":0.756},{"yr":1856,"ri":0.80},{"yr":1858.5,"ri":0.824},{"yr":1861,"ri":0.80},{"yr":1863,"ri":0.75},{"yr":1865,"ri":0.704},{"yr":1867,"ri":0.67},{"yr":1869,"ri":0.637},{"yr":1871,"ri":0.62},{"yr":1873.3,"ri":0.613},{"yr":1876,"ri":0.628},{"yr":1878,"ri":0.67},{"yr":1880,"ri":0.74},{"yr":1882,"ri":0.80},{"yr":1884,"ri":0.835},{"yr":1885.5,"ri":0.84},{"yr":1887,"ri":0.83},{"yr":1889,"ri":0.80},{"yr":1891,"ri":0.765},{"yr":1892.5,"ri":0.756},{"yr":1894,"ri":0.775},{"yr":1896,"ri":0.815},{"yr":1898,"ri":0.86},{"yr":1900,"ri":0.90},{"yr":1902,"ri":0.94},{"yr":1904,"ri":0.95},{"yr":1906,"ri":0.94},{"yr":1908,"ri":0.92},{"yr":1910,"ri":0.88},{"yr":1912,"ri":0.845},{"yr":1914,"ri":0.815},{"yr":1916.2,"ri":0.808},{"yr":1918,"ri":0.81},{"yr":1920,"ri":0.84},{"yr":1922,"ri":0.90},{"yr":1924,"ri":0.96},{"yr":1926,"ri":0.999},{"yr":1928.6,"ri":1.024},{"yr":1931,"ri":1.02},{"yr":1933,"ri":0.995},{"yr":1935.5,"ri":0.948},{"yr":1938,"ri":0.915},{"yr":1939.5,"ri":0.912},{"yr":1941,"ri":0.93},{"yr":1943,"ri":0.965},{"yr":1945,"ri":0.984},{"yr":1947,"ri":0.96},{"yr":1949,"ri":0.92},{"yr":1951,"ri":0.905},{"yr":1953,"ri":0.93},{"yr":1955,"ri":0.98},{"yr":1957,"ri":1.04},{"yr":1959.5,"ri":1.10},{"yr":1962.6,"ri":1.148},{"yr":1965,"ri":1.13},{"yr":1967,"ri":1.09},{"yr":1969,"ri":1.03},{"yr":1970.8,"ri":1.004},{"yr":1972.5,"ri":1.02},{"yr":1974,"ri":1.10},{"yr":1976,"ri":1.23},{"yr":1978,"ri":1.33},{"yr":1980,"ri":1.43},{"yr":1981.5,"ri":1.49},{"yr":1983.2,"ri":1.524},{"yr":1985,"ri":1.50},{"yr":1987,"ri":1.45},{"yr":1988.7,"ri":1.416},{"yr":1990,"ri":1.42},{"yr":1991.5,"ri":1.49},{"yr":1993,"ri":1.62},{"yr":1994,"ri":1.75},{"yr":1995,"ri":1.92}]
},
"vconcat": [
{
  "width": 970, "height": 583,
  "encoding": {
    "x": {"field": "yr", "type": "quantitative", "scale": {"domain": [1600, 1800], "nice": false, "zero": false},
      "axis": {"values": [1600,1625,1650,1675,1700,1725,1750,1775,1800], "format": "d", "labelExpr": "datum.value % 50 === 0 ? datum.label : ''", "tickSize": {"condition": {"test": "datum.value % 50 === 0", "value": 10}, "value": 6}, "labelPadding": 20, "labelFlush": false, "labelOverlap": false, "title": null}},
    "y": {"field": "ri", "type": "quantitative", "scale": {"domain": [0.4, 1.8], "nice": false, "zero": false},
      "axis": {"values": [0.4,0.6,0.8,1.0,1.2,1.4,1.6,1.8], "format": ".1f", "tickSize": 10, "labelPadding": 18, "title": "Ring-width index", "titleX": -115, "titleY": 659, "titleAngle": -90, "titleBaseline": "middle", "titleAlign": "center"}}
  },
  "layer": [
    {"data": {"name": "a1"}, "mark": {"type": "line", "color": "#9393ab", "strokeWidth": 2, "clip": true}},
    {"data": {"name": "as1"}, "mark": {"type": "line", "color": "#9393ab", "strokeWidth": 5, "interpolate": "monotone", "clip": true}},
    {"data": {"name": "a2"}, "mark": {"type": "line", "color": "#000000", "strokeWidth": 2, "clip": true}},
    {"data": {"name": "as2"}, "mark": {"type": "line", "color": "#000000", "strokeWidth": 5, "interpolate": "monotone", "clip": true}},
    {"data": {"name": "ta"}, "mark": {"type": "text", "text": "(a)", "align": "left", "baseline": "alphabetic", "fontSize": 36.5, "fill": "#000000"}},
    {"data": {"name": "ta"}, "mark": {"type": "text", "text": "Group 1", "align": "left", "baseline": "alphabetic", "fontSize": 36.5, "fill": "#9393ab", "dx": 55}},
    {"data": {"name": "ta"}, "mark": {"type": "text", "text": "/Group 2 comparison - A.D. 1600-1800", "align": "left", "baseline": "alphabetic", "fontSize": 36.5, "fill": "#000000", "dx": 187}}
  ]
},
{
  "width": 970, "height": 584,
  "encoding": {
    "x": {"field": "yr", "type": "quantitative", "scale": {"domain": [1800, 2000], "nice": false, "zero": false},
      "axis": {"values": [1800,1825,1850,1875,1900,1925,1950,1975,2000], "format": "d", "labelExpr": "datum.value % 50 === 0 ? datum.label : ''", "tickSize": {"condition": {"test": "datum.value % 50 === 0", "value": 10}, "value": 6}, "labelPadding": 20, "labelFlush": false, "labelOverlap": false, "title": "Year A.D.", "titleY": 108, "titleBaseline": "middle"}},
    "y": {"field": "ri", "type": "quantitative", "scale": {"domain": [0.4, 1.8], "nice": false, "zero": false},
      "axis": {"values": [0.4,0.6,0.8,1.0,1.2,1.4,1.6,1.8], "format": ".1f", "tickSize": 10, "labelPadding": 18, "title": null}}
  },
  "layer": [
    {"data": {"name": "b1"}, "mark": {"type": "line", "color": "#9393ab", "strokeWidth": 2, "clip": true}},
    {"data": {"name": "bs1"}, "mark": {"type": "line", "color": "#9393ab", "strokeWidth": 5, "interpolate": "monotone", "clip": true}},
    {"data": {"name": "b2"}, "mark": {"type": "line", "color": "#000000", "strokeWidth": 2, "clip": true}},
    {"data": {"name": "bs2"}, "mark": {"type": "line", "color": "#000000", "strokeWidth": 5, "interpolate": "monotone", "clip": true}},
    {"data": {"name": "tb"}, "mark": {"type": "text", "text": "(b)", "align": "left", "baseline": "alphabetic", "fontSize": 36.5, "fill": "#000000"}},
    {"data": {"name": "tb"}, "mark": {"type": "text", "text": "Group 1", "align": "left", "baseline": "alphabetic", "fontSize": 36.5, "fill": "#9393ab", "dx": 55}},
    {"data": {"name": "tb"}, "mark": {"type": "text", "text": "/Group 2 comparison - A.D. 1800-2000", "align": "left", "baseline": "alphabetic", "fontSize": 36.5, "fill": "#000000", "dx": 187}}
  ]
}
],
"spacing": 93,
"bounds": "flush"
}
